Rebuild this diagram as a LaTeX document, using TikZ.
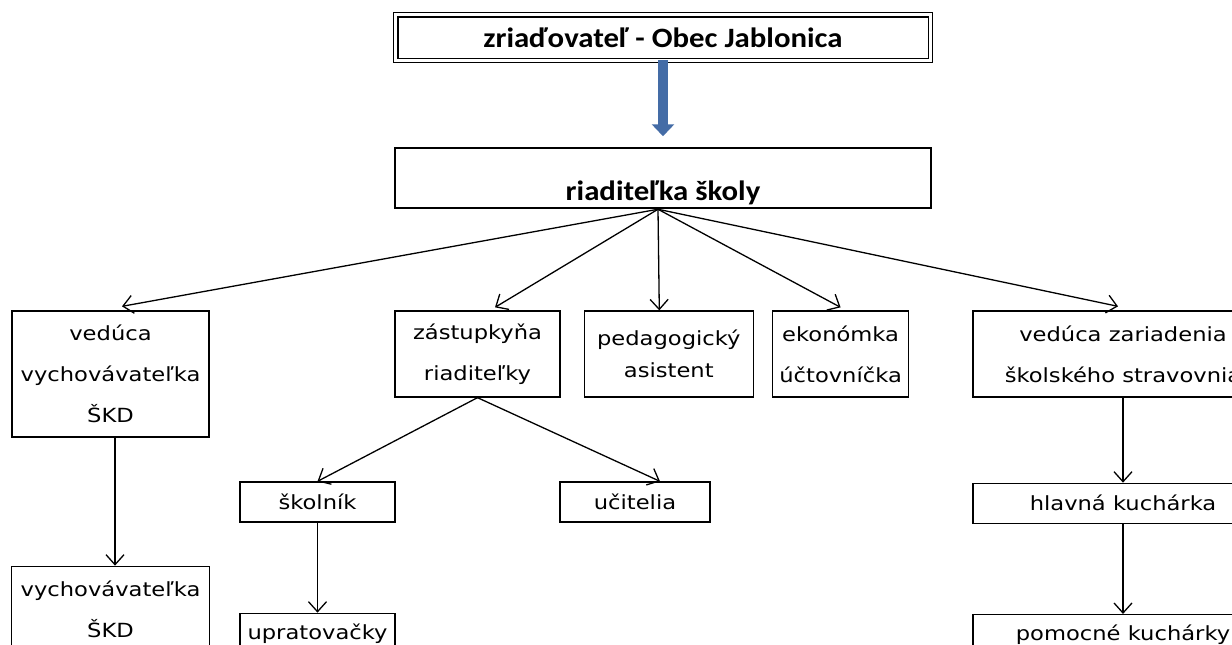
\documentclass[tikz,border=0pt]{standalone}
\usepackage{fontspec}
\setmainfont{DejaVu Sans}[FakeStretch=1.16]
\newfontfamily\carlitofont{Carlito}[FakeStretch=1.1]
\usetikzlibrary{arrows.meta, positioning}
\definecolor{arrowblue}{RGB}{68,108,166}

\begin{document}
\begin{tikzpicture}[x=1pt, y=-1pt,
	orgbox/.style={draw, line width=1.3pt, align=center, inner sep=0pt,
		font=\fontsize{19.5}{41}\selectfont},
	headbox/.style={draw, inner xsep=0pt,
		font=\carlitofont\bfseries\fontsize{28}{32}\selectfont},
	arr/.style={-{Straight Barb[length=10pt,width=18pt]}, line width=1.3pt},
	bluearr/.style={arrowblue, line width=10pt,
		-{Triangle[width=22pt,length=12pt]}, shorten <=-1pt, shorten >=10.5pt}]
	\useasboundingbox (0,0) rectangle (1232,645);
	\clip (0,0) rectangle (1232,645);

	\node (zriad) [headbox, double, line width=1.3pt, double distance=3pt,
		minimum width=534.6pt, minimum height=45.6pt, inner ysep=0pt]
		at (663,37.5) {zriaďovateľ - Obec Jablonica};
	\node (riad) [headbox, line width=2.5pt, minimum width=536pt, minimum height=60pt,
		inner ysep=4pt, text height=48pt, text depth=4pt]
		at (663,178) {riaditeľka školy};

	\node (ved) [orgbox, minimum width=197pt, minimum height=126pt] at (110.5,374) {vedúca\\vychovávateľka\\ŠKD};
	\node (zast) [orgbox, minimum width=165pt, minimum height=86pt] at (477.5,354) {zástupkyňa\\riaditeľky};
	\node (pedag) [orgbox, minimum width=169pt, minimum height=86pt, right=23pt of zast,
		font=\fontsize{19.5}{32}\selectfont] {pedagogický\\asistent};
	\node (ekon) [orgbox, minimum width=136pt, minimum height=86pt, right=18pt of pedag] {ekonómka\\účtovníčka};
	\node (vedzar) [orgbox, minimum width=300pt, minimum height=86pt] at (1123,354) {vedúca zariadenia\\školského stravovnia};

	\node (vych) [orgbox, minimum width=198pt, minimum height=86pt, below=128pt of ved] {vychovávateľka\\ŠKD};
	\node (skol) [orgbox, minimum width=155pt, minimum height=40pt] at (317.5,502) {školník};
	\node (ucit) [orgbox, minimum width=150pt, minimum height=40pt] at (635,502) {učitelia};
	\node (upr) [orgbox, minimum width=155pt, minimum height=40pt, below=90pt of skol] {upratovačky};
	\node (hlav) [orgbox, minimum width=300pt, minimum height=40pt, below=85pt of vedzar] {hlavná kuchárka};
	\node (pomoc) [orgbox, minimum width=300pt, minimum height=40pt, below=90pt of hlav] {pomocné kuchárky};

	\draw [bluearr] (zriad.south) -- (riad.north);

	\path [arr]
		([xshift=-5pt]riad.south) edge ([xshift=11.5pt, yshift=4pt]ved.north)
		([xshift=-5pt]riad.south) edge ([xshift=17.5pt, yshift=3pt]zast.north)
		([xshift=-5pt]riad.south) edge ([xshift=-9.5pt]pedag.north)
		([xshift=-5pt]riad.south) edge ([yshift=3pt]ekon.north)
		([xshift=-5pt]riad.south) edge ([xshift=-5pt, yshift=4pt]vedzar.north)
		([xshift=4.5pt]ved.south) edge ([xshift=4.5pt]vych.north)
		(zast.south) edge (skol.north)
		(zast.south) edge ([xshift=25pt]ucit.north)
		(skol.south) edge (upr.north)
		(vedzar.south) edge (hlav.north)
		(hlav.south) edge (pomoc.north);

\end{tikzpicture}
\end{document}
